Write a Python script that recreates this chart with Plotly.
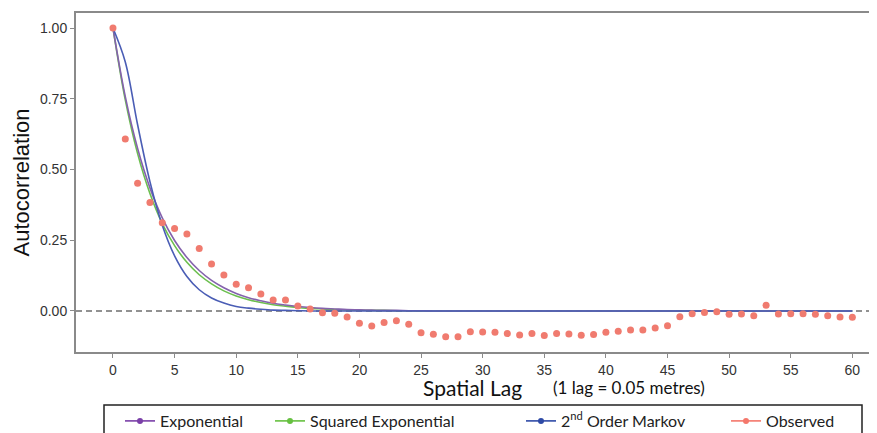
import plotly.graph_objects as go

# ---------------- data ----------------
lags = list(range(0, 61))

observed = [1.000, 0.608, 0.451, 0.383, 0.312, 0.291, 0.272, 0.221, 0.166, 0.127,
            0.094, 0.082, 0.060, 0.039, 0.039, 0.018, 0.007, -0.006, -0.008, -0.021,
            -0.043, -0.053, -0.041, -0.035, -0.047, -0.077, -0.082, -0.091, -0.091, -0.073,
            -0.074, -0.075, -0.080, -0.085, -0.080, -0.087, -0.080, -0.081, -0.086, -0.083,
            -0.075, -0.072, -0.067, -0.067, -0.060, -0.052, -0.020, -0.010, -0.005, -0.003,
            -0.012, -0.011, -0.017, 0.020, -0.011, -0.010, -0.010, -0.012, -0.017, -0.021,
            -0.022]

exponential = [1.000, 0.757, 0.574, 0.435, 0.329, 0.249, 0.189, 0.143, 0.108, 0.082,
               0.062, 0.047, 0.036, 0.027, 0.021, 0.016, 0.012, 0.009, 0.007, 0.005,
               0.004, 0.003, 0.002, 0.002, 0.001, 0.001, 0.000, 0.000, 0.000, 0.000,
               0.000, 0.000, 0.000, 0.000, 0.000, 0.000, 0.000, 0.000, 0.000, 0.000,
               0.000, 0.000, 0.000, 0.000, 0.000, 0.000, 0.000, 0.000, 0.000, 0.000,
               0.000, 0.000, 0.000, 0.000, 0.000, 0.000, 0.000, 0.000, 0.000, 0.000,
               0.000]

squared_exponential = [1.000, 0.746, 0.556, 0.415, 0.309, 0.231, 0.172, 0.128, 0.096, 0.071,
                       0.053, 0.040, 0.030, 0.022, 0.017, 0.012, 0.009, 0.007, 0.005, 0.004,
                       0.003, 0.002, 0.002, 0.001, 0.001, 0.000, 0.000, 0.000, 0.000, 0.000,
                       0.000, 0.000, 0.000, 0.000, 0.000, 0.000, 0.000, 0.000, 0.000, 0.000,
                       0.000, 0.000, 0.000, 0.000, 0.000, 0.000, 0.000, 0.000, 0.000, 0.000,
                       0.000, 0.000, 0.000, 0.000, 0.000, 0.000, 0.000, 0.000, 0.000, 0.000,
                       0.000]

markov2 = [1.000, 0.880, 0.658, 0.457, 0.303, 0.195, 0.122, 0.075, 0.046, 0.028,
           0.016, 0.010, 0.006, 0.003, 0.002, 0.001, 0.000, 0.000, 0.000, 0.000,
           0.000, 0.000, 0.000, 0.000, 0.000, 0.000, 0.000, 0.000, 0.000, 0.000,
           0.000, 0.000, 0.000, 0.000, 0.000, 0.000, 0.000, 0.000, 0.000, 0.000,
           0.000, 0.000, 0.000, 0.000, 0.000, 0.000, 0.000, 0.000, 0.000, 0.000,
           0.000, 0.000, 0.000, 0.000, 0.000, 0.000, 0.000, 0.000, 0.000, 0.000,
           0.000]

x_ticks = [0, 5, 10, 15, 20, 25, 30, 35, 40, 45, 50, 55, 60]
y_ticks = [0.00, 0.25, 0.50, 0.75, 1.00]
y_tick_labels = ["0.00", "0.25", "0.50", "0.75", "1.00"]

series_names = ["Exponential", "Squared Exponential", "2<sup>nd</sup> Order Markov", "Observed"]
x_title = "Spatial Lag"
x_note = "(1 lag = 0.05 metres)"
y_title = "Autocorrelation"

# ---------------- styling ----------------
C_EXP = "#8462ad"
C_SQ = "#6cbf4f"
C_MK = "#4a5db5"
C_OBS = "#f07b6f"
LEG_EXP = "#7a3fa8"
LEG_SQ = "#66c040"
LEG_MK = "#2e4aa6"
LEG_OBS = "#f4776b"

# the page body adds an 8px offset; positions below are given in window pixels
OFF = 8
W, H = 877, 433
L = 76 - OFF
T = 13 - OFF
PLOT_BOTTOM = 352 - OFF
PLOT_RIGHT = 877 - OFF
R = W - PLOT_RIGHT
B = H - PLOT_BOTTOM
PW, PH = W - L - R, H - T - B


def px_x(p):
    return (p - OFF - L) / PW


def px_y(p):
    return (PLOT_BOTTOM - (p - OFF)) / PH


fig = go.Figure()

for vals, col in [(squared_exponential, C_SQ), (exponential, C_EXP), (markov2, C_MK)]:
    fig.add_trace(go.Scatter(x=lags, y=vals, mode="lines", line=dict(color=col, width=1.6, shape="spline"),
                             showlegend=False, hoverinfo="skip"))

fig.add_trace(go.Scatter(x=lags, y=observed, mode="markers",
                         marker=dict(color=C_OBS, size=7, line=dict(width=0)),
                         showlegend=False))

# legend entries, one small legend each, positioned like the reference
leg_cols = [LEG_EXP, LEG_SQ, LEG_MK, LEG_OBS]
leg_px = [120, 270, 521, 726]
for i, (name, col) in enumerate(zip(series_names, leg_cols)):
    lid = "legend" if i == 0 else f"legend{i + 1}"
    fig.add_trace(go.Scatter(x=[None], y=[None], mode="lines+markers", name=name,
                             line=dict(color=col, width=1.6), marker=dict(color=col, size=6),
                             legend=lid, showlegend=True))

legend_common = dict(orientation="h", xanchor="left", yanchor="middle", bgcolor="rgba(0,0,0,0)",
                     borderwidth=0, itemwidth=30, font=dict(family="Lato", size=16, color="#222222"),
                     itemclick=False, itemdoubleclick=False)
layout_legends = {}
for i, p in enumerate(leg_px):
    lid = "legend" if i == 0 else f"legend{i + 1}"
    layout_legends[lid] = dict(legend_common, x=px_x(p), y=px_y(421))

fig.update_layout(
    width=W, height=H,
    margin=dict(l=L, r=R, t=T, b=B, pad=0, autoexpand=False),
    paper_bgcolor="white", plot_bgcolor="white",
    showlegend=True,
    **layout_legends,
    xaxis=dict(range=[-3, 62], tickvals=x_ticks, ticks="outside", ticklen=4, tickwidth=1.2,
               tickcolor="#8a8a8a", showline=True, linecolor="#8a8a8a", linewidth=2, mirror=True,
               showgrid=False, zeroline=False, automargin=False,
               tickfont=dict(family="Liberation Sans", size=14, color="#333333")),
    yaxis=dict(range=[-0.145, 1.053], tickvals=y_ticks, ticktext=y_tick_labels, ticks="outside",
               ticklen=4, tickwidth=1.2, tickcolor="#8a8a8a", showline=True, linecolor="#8a8a8a",
               linewidth=2, mirror=False, showgrid=False, zeroline=False, automargin=False,
               tickfont=dict(family="Liberation Sans", size=14, color="#333333"),
               title=dict(text=y_title, standoff=4,
                          font=dict(family="Liberation Sans", size=22, color="#111111"))),
    annotations=[
        dict(text=x_title, xref="paper", yref="paper",
             x=px_x(472), y=px_y(387), xanchor="center", yanchor="middle", showarrow=False,
             font=dict(family="Lato", size=21, color="#111111")),
        dict(text=x_note, xref="paper", yref="paper",
             x=px_x(551), y=px_y(387), xanchor="left", yanchor="middle", showarrow=False,
             font=dict(family="Lato", size=17, color="#111111")),
    ],
)

fig.add_hline(y=0, line=dict(color="#6e6e6e", width=1.4, dash="6px,4px"), layer="below")
fig.add_shape(type="rect", xref="paper", yref="paper", x0=px_x(104), x1=px_x(862),
              y0=px_y(405), y1=px_y(450), line=dict(color="#222222", width=1.5, dash="solid"),
              fillcolor="rgba(0,0,0,0)", layer="below")

fig.write_html("out.html")
